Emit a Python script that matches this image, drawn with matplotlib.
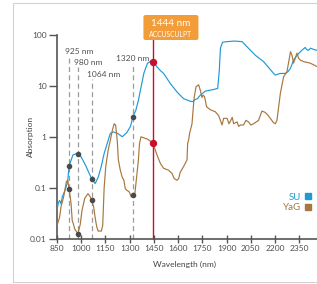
import numpy as np
import matplotlib.pyplot as plt
from matplotlib.patches import Rectangle, FancyBboxPatch
from matplotlib.lines import Line2D
from matplotlib.ticker import NullLocator

plt.rcParams['font.family'] = ['Lato', 'DejaVu Sans']

# --- spectra (wavelength in nm, absorption) ---
su_nm = [850, 858, 866, 875, 883, 900, 916, 925, 949, 973, 1000, 1028, 1064, 1086,
         1105, 1124, 1142, 1161, 1180, 1198, 1226, 1254, 1282, 1305, 1320, 1338,
         1354, 1388, 1410, 1433, 1444, 1469, 1490, 1510, 1551, 1593, 1634, 1675,
         1690, 1706, 1720, 1738, 1769, 1820, 1845, 1855, 1862, 1875, 1900, 1950,
         1996, 2026, 2078, 2129, 2160, 2191, 2202, 2230, 2264, 2280, 2295, 2315,
         2336, 2360, 2387, 2395, 2408, 2420, 2440, 2460]
su_abs = [0.036, 0.05, 0.056, 0.048, 0.066, 0.089, 0.13, 0.27, 0.44, 0.47, 0.40,
          0.27, 0.15, 0.12, 0.16, 0.26, 0.47, 0.74, 1.16, 1.25, 1.16, 1.0, 1.2,
          1.6, 2.45, 3.3, 5.2, 17.8, 27.7, 31, 30, 23.8, 20, 17.6, 11.2, 7.6, 5.6,
          5.0, 4.9, 5.4, 5.6, 6.6, 7.9, 8.5, 8.9, 20, 55, 72, 74, 76, 74, 59, 40,
          30, 23, 17.6, 16.3, 17.5, 17.6, 19, 22, 32, 40, 48, 57, 52, 50, 55, 52, 50]

yag_nm = [850, 866, 875, 891, 908, 916, 925, 937, 944, 954, 961, 980, 994, 1005,
          1022, 1042, 1056, 1064, 1077, 1086, 1096, 1105, 1124, 1133, 1142, 1152,
          1167, 1180, 1193, 1204, 1213, 1223, 1230, 1242, 1254, 1264, 1273, 1282,
          1297, 1310, 1320, 1332, 1343, 1354, 1361, 1370, 1388, 1410, 1433, 1444,
          1469, 1490, 1510, 1541, 1562, 1576, 1593, 1603, 1613, 1634, 1655, 1659,
          1665, 1671, 1686, 1696, 1700, 1711, 1727, 1737, 1748, 1754, 1764, 1776,
          1799, 1830, 1851, 1872, 1882, 1903, 1915, 1923, 1935, 1944, 1965, 1975,
          1985, 2005, 2020, 2036, 2050, 2067, 2098, 2119, 2140, 2154, 2171, 2190,
          2202, 2212, 2233, 2253, 2274, 2296, 2305, 2315, 2336, 2346, 2357, 2377,
          2418, 2460]
yag_abs = [0.018, 0.026, 0.042, 0.066, 0.13, 0.14, 0.095, 0.049, 0.023, 0.018,
           0.015, 0.0125, 0.019, 0.036, 0.062, 0.076, 0.066, 0.057, 0.042, 0.026,
           0.017, 0.014, 0.014, 0.018, 0.10, 0.26, 0.55, 0.85, 1.35, 1.8, 1.7,
           0.85, 0.35, 0.22, 0.16, 0.14, 0.095, 0.089, 0.083, 0.066, 0.071, 0.076,
           0.16, 0.35, 0.74, 1.0, 0.95, 0.9, 0.8, 0.74, 0.44, 0.30, 0.24, 0.22,
           0.19, 0.15, 0.14, 0.15, 0.20, 0.26, 0.35, 0.74, 0.86, 1.16, 1.8, 4.5,
           6.1, 9.6, 10.5, 8.3, 5.9, 6.6, 6.1, 3.9, 3.4, 3.1, 2.6, 1.7, 2.3, 2.3,
           1.8, 2.0, 2.4, 1.8, 1.96, 1.6, 1.7, 1.7, 2.1, 1.96, 1.7, 1.8, 2.1, 3.2,
           3.0, 2.7, 2.3, 1.9, 1.8, 2.1, 7.1, 15, 19, 47, 40, 28, 44, 35, 32, 30,
           28, 24]

marker_nm = [925, 980, 1064, 1320]
marker_labels = ['925 nm', '980 nm', '1064 nm', '1320 nm']
laser_nm = 1444
laser_text = '1444 nm'
laser_name = 'ACCUSCULPT'

series_names = ['SU', 'YaG']
x_ticks = [850, 1000, 1150, 1300, 1450, 1600, 1750, 1900, 2050, 2200, 2350]
y_ticks = [0.01, 0.1, 1, 10, 100]
y_ticklabels = ['0.01', '0.1', '1', '10', '100']

# --- styling ---
blue = '#1e9ad6'
brown = '#a8763e'
red = '#c8102e'
orange = '#f39c3a'
axis_grey = '#555555'
dash_grey = '#9a9a9a'
text_grey = '#505050'
label_tops = [38.6, 24, 13.6, 28.8]   # where the dashed guides stop


def at(nm, xs, ys):
    # value of a spectrum at a wavelength (log interpolation)
    return 10 ** np.interp(nm, xs, np.log10(ys))


fig = plt.figure(figsize=(3.17, 2.84), dpi=100)
ax = fig.add_axes([57 / 317, 1 - 238.5 / 284, 260 / 317, 203.5 / 284])

# light frame round the whole graphic
fig.add_artist(Rectangle((12.5 / 317, 2.3 / 284), 1.2, 279 / 284,
                         transform=fig.transFigure, fill=False,
                         ec='#d2d2d2', lw=0.8))

ax.set_yscale('log')
ax.set_xlim(850, 2460)
ax.set_ylim(0.01, 100)

# dashed guides + labels
ax.vlines(marker_nm, 0.01, label_tops, colors=dash_grey, lw=0.9,
          linestyles=(0, (4, 2.7)), zorder=1)
for nm, lbl, top in zip(marker_nm, marker_labels, label_tops):
    if nm == marker_nm[-1]:
        ax.annotate(lbl, xy=(nm, top), xytext=(0, 0.5), textcoords='offset points',
                    ha='center', va='bottom', fontsize=6, color=text_grey)
    else:
        ax.annotate(lbl, xy=(nm, top), xytext=(-3, 0.5), textcoords='offset points',
                    ha='left', va='bottom', fontsize=6, color=text_grey)

# laser line
ax.vlines(laser_nm, 0.01, 100, colors=red, lw=1.0, zorder=2, clip_on=False)

# spectra
ax.plot(su_nm, su_abs, color=blue, lw=0.85, zorder=3)
ax.plot(yag_nm, yag_abs, color=brown, lw=0.85, zorder=3)

# points on the guides
su_pts = [at(nm, su_nm, su_abs) for nm in marker_nm]
yag_pts = [at(nm, yag_nm, yag_abs) for nm in marker_nm]
ax.plot(marker_nm, su_pts, 'o', color='#4a4a4a', ms=3.0, zorder=4)
ax.plot(marker_nm, yag_pts, 'o', color='#4a4a4a', ms=3.0, zorder=4)
ax.plot([laser_nm, laser_nm],
        [at(laser_nm, su_nm, su_abs), at(laser_nm, yag_nm, yag_abs)],
        'o', color=red, ms=4.3, zorder=5)

# orange label box above the laser line
fig.canvas.draw()
lx = ax.transData.transform((laser_nm, 1))[0]
bx0 = (lx - 9.5) / 317
fig.add_artist(FancyBboxPatch((bx0, 1 - 40 / 284), 55 / 317, 25 / 284,
                              boxstyle='round,pad=0,rounding_size=0.007',
                              transform=fig.transFigure, fc=orange, ec='none'))
fig.text(bx0 + 27.5 / 317, 1 - 24 / 284, laser_text, ha='center', va='center',
         color='white', fontsize=7.2)
fig.text(bx0 + 27.5 / 317, 1 - 34.5 / 284, laser_name, ha='center', va='center',
         color='white', fontsize=4.9)

# axes
for side in ['top', 'right']:
    ax.spines[side].set_visible(False)
for side in ['left', 'bottom']:
    ax.spines[side].set_color(axis_grey)
    ax.spines[side].set_linewidth(1.2)
ax.set_xticks(x_ticks)
ax.set_yticks(y_ticks)
ax.set_yticklabels(y_ticklabels)
ax.yaxis.set_minor_locator(NullLocator())
ax.tick_params(axis='y', direction='out', length=6, width=1, color=axis_grey,
               labelsize=6, labelcolor=text_grey, pad=1.5)
ax.tick_params(axis='x', direction='inout', length=5.5, width=1, color=axis_grey,
               labelsize=6, labelcolor=text_grey, pad=2)
ax.set_xlabel('Wavelength (nm)', fontsize=6, color='#444444')
ax.set_ylabel('Absorption', fontsize=6, color='#444444')
ax.xaxis.set_label_coords(0.49, -0.11)
ax.yaxis.set_label_coords(-0.088, 0.5)

# legend
handles = [Line2D([], [], marker='s', ls='none', color=c, ms=3.8) for c in (blue, brown)]
ax.legend(handles, series_names, loc='lower right', bbox_to_anchor=(0.978, 0.13),
          frameon=False, markerfirst=False, labelcolor=[blue, brown], fontsize=7,
          handlelength=0.6, handletextpad=0.4, labelspacing=0.12, borderpad=0,
          borderaxespad=0)

plt.savefig('out.png', dpi=100)
